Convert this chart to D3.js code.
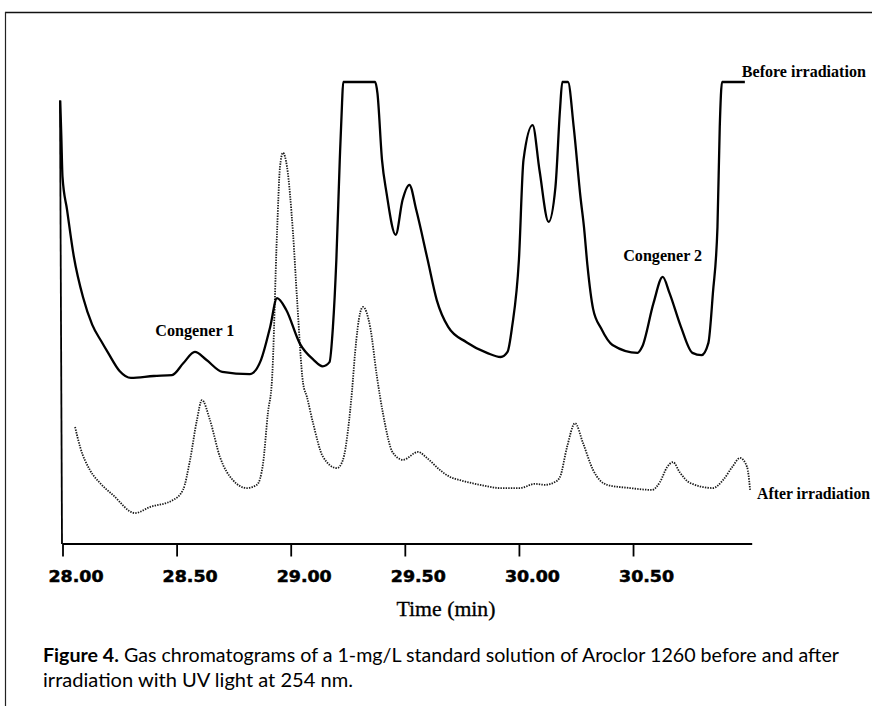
<!DOCTYPE html>
<html>
<head>
<meta charset="utf-8">
<script src="https://cdn.jsdelivr.net/npm/d3@7/dist/d3.min.js"></script>
<style>
  html, body { margin: 0; padding: 0; background: #fff; }
  svg { display: block; }
</style>
</head>
<body>
<svg id="chart" width="872" height="706"></svg>
<script>
// ---- Data (time in minutes, detector signal in arbitrary units, 100 = saturated) ----
const tickValues = [28.0, 28.5, 29.0, 29.5, 30.0, 30.5];
const tickLabels = ["28.00", "28.50", "29.00", "29.50", "30.00", "30.50"];

const beforeTime = [27.99, 27.995, 28.00, 28.02, 28.05, 28.09, 28.13, 28.17, 28.20, 28.25, 28.30, 28.40, 28.48, 28.53, 28.58, 28.63, 28.70, 28.82, 28.87, 28.91, 28.94, 28.98, 29.04, 29.10, 29.14, 29.17, 29.185, 29.20, 29.215, 29.225, 29.23, 29.37, 29.38, 29.40, 29.42, 29.46, 29.49, 29.52, 29.55, 29.60, 29.64, 29.69, 29.77, 29.86, 29.92, 29.95, 29.97, 30.00, 30.02, 30.06, 30.09, 30.13, 30.16, 30.18, 30.19, 30.215, 30.24, 30.27, 30.285, 30.30, 30.325, 30.36, 30.41, 30.52, 30.54, 30.59, 30.63, 30.66, 30.71, 30.76, 30.80, 30.83, 30.85, 30.87, 30.88, 30.89, 30.99];
const beforeSignal = [96.0, 88.0, 79.5, 72.4, 62.2, 53.5, 47.6, 44.0, 41.5, 37.6, 36.1, 36.5, 36.7, 39.3, 41.7, 40.0, 37.4, 36.9, 40.0, 47.1, 53.3, 50.8, 43.5, 40.0, 38.6, 39.5, 47.1, 61.6, 83.2, 95.5, 100, 100, 97.6, 83.2, 76.0, 67.0, 74.5, 77.8, 72.4, 61.6, 52.9, 47.1, 43.8, 41.5, 40.6, 41.7, 47.1, 61.6, 83.2, 90.7, 81.0, 69.8, 77.3, 94.0, 100, 100, 90.3, 75.0, 68.7, 60.5, 51.0, 46.8, 43.2, 41.5, 42.8, 52.3, 57.9, 54.4, 47.1, 41.5, 41.0, 43.6, 54.4, 68.7, 90.3, 100, 100];

const afterTime = [28.055, 28.077, 28.12, 28.164, 28.221, 28.318, 28.383, 28.484, 28.528, 28.559, 28.589, 28.611, 28.646, 28.69, 28.747, 28.808, 28.852, 28.879, 28.90, 28.918, 28.94, 28.953, 28.966, 28.984, 29.01, 29.028, 29.054, 29.071, 29.098, 29.142, 29.203, 29.229, 29.251, 29.269, 29.282, 29.304, 29.317, 29.348, 29.378, 29.404, 29.448, 29.492, 29.558, 29.597, 29.654, 29.698, 29.742, 29.83, 29.917, 30.005, 30.07, 30.114, 30.158, 30.18, 30.211, 30.246, 30.281, 30.325, 30.386, 30.487, 30.583, 30.618, 30.649, 30.675, 30.706, 30.75, 30.85, 30.894, 30.934, 30.969, 31.0, 31.013];
const afterSignal = [25.5, 21.2, 16.2, 13.4, 10.8, 6.9, 8.2, 9.7, 11.9, 18.4, 27.0, 31.3, 27.0, 19.0, 14.0, 12.3, 13.0, 17.7, 28.5, 35.6, 67.4, 81.6, 84.7, 81.6, 67.4, 52.9, 35.0, 32.0, 26.3, 19.0, 16.6, 18.4, 24.8, 33.5, 41.5, 50.1, 51.4, 47.1, 36.3, 28.5, 19.9, 18.4, 20.1, 18.8, 16.2, 14.7, 14.0, 13.0, 12.3, 12.3, 13.2, 13.0, 13.6, 14.7, 21.2, 26.3, 22.0, 16.2, 13.0, 12.3, 11.9, 13.6, 16.8, 17.9, 15.6, 13.4, 12.3, 14.0, 16.8, 18.8, 16.8, 11.9];

const seriesLabels = ["Before irradiation", "After irradiation"];
const peakLabels = [
  { text: "Congener 1", t: 28.58, s: 41.7 },
  { text: "Congener 2", t: 30.63, s: 57.9 }
];
const axisTitle = "Time (min)";
const captionBold = "Figure 4.";
const captionLine1 = " Gas chromatograms of a 1-mg/L standard solution of Aroclor 1260 before and after";
const captionLine2 = "irradiation with UV light at 254 nm.";

// ---- Drawing ----
const svg = d3.select("#chart");
const x = d3.scaleLinear().domain([28, 31.02]).range([62.5, 751.7]);
const y = d3.scaleLinear().domain([0, 100]).range([545, 82]);

// frame
svg.append("line").attr("x1", 5).attr("y1", 12.5).attr("x2", 872).attr("y2", 12.5)
  .attr("stroke", "#111").attr("stroke-width", 1.6);
svg.append("line").attr("x1", 5.5).attr("y1", 12).attr("x2", 5.5).attr("y2", 706)
  .attr("stroke", "#222").attr("stroke-width", 1.2);

// y axis line (no ticks)
svg.append("line")
  .attr("x1", x(28) - 2.5).attr("x2", x(28) - 0.5)
  .attr("y1", y(96)).attr("y2", y(0) - 1)
  .attr("stroke", "#000").attr("stroke-width", 1.8);

// x axis
const xAxis = d3.axisBottom(x)
  .tickValues(tickValues)
  .tickSize(13)
  .tickSizeOuter(0)
  .tickFormat((d, i) => tickLabels[i]);
const gx = svg.append("g").attr("transform", `translate(0,${y(0) - 1.5})`).call(xAxis);
gx.select(".domain").attr("stroke", "#000").attr("stroke-width", 2);
gx.selectAll(".tick line").attr("stroke", "#000").attr("stroke-width", 1.8);
gx.selectAll(".tick text")
  .attr("font-family", "'DejaVu Sans', sans-serif")
  .attr("font-weight", "bold")
  .attr("font-size", 15)
  .attr("fill", "#000")
  .attr("stroke", "#000")
  .attr("stroke-width", 0.5)
  .attr("dx", 13)
  .attr("y", 38)
  .attr("dy", 0)
  .attr("textLength", 55)
  .attr("lengthAdjust", "spacingAndGlyphs");

// series
const line = d3.line().x(d => x(d[0])).y(d => y(d[1])).curve(d3.curveMonotoneX);
const before = beforeTime.map((t, i) => [t, beforeSignal[i]]);
const after = afterTime.map((t, i) => [t, afterSignal[i]]);

svg.append("path").datum(after)
  .attr("d", line)
  .attr("fill", "none")
  .attr("stroke", "#1a1a1a")
  .attr("stroke-width", 1.8)
  .attr("stroke-dasharray", "1.4,1.2");

svg.append("path").datum(before)
  .attr("d", line)
  .attr("fill", "none")
  .attr("stroke", "#000")
  .attr("stroke-width", 2.3)
  .attr("stroke-linejoin", "round");

// labels
const serif = "'Liberation Serif', 'DejaVu Serif', serif";
svg.append("text").attr("x", x(30.99) - 3).attr("y", 77)
  .attr("font-family", serif).attr("font-size", 16).attr("font-weight", "bold")
  .attr("textLength", 124).attr("lengthAdjust", "spacingAndGlyphs")
  .text(seriesLabels[0]);
svg.append("text").attr("x", x(31.013) + 7).attr("y", 499)
  .attr("font-family", serif).attr("font-size", 16).attr("font-weight", "bold")
  .attr("textLength", 113).attr("lengthAdjust", "spacingAndGlyphs")
  .text(seriesLabels[1]);

svg.selectAll(".peak").data(peakLabels).enter().append("text")
  .attr("class", "peak")
  .attr("x", d => x(d.t))
  .attr("y", d => y(d.s) - 16)
  .attr("text-anchor", "middle")
  .attr("font-family", serif).attr("font-size", 16).attr("font-weight", "bold")
  .attr("textLength", 79).attr("lengthAdjust", "spacingAndGlyphs")
  .text(d => d.text);

// axis title
svg.append("text").attr("x", 446).attr("y", 616)
  .attr("text-anchor", "middle")
  .attr("font-family", serif).attr("font-size", 20)
  .attr("stroke", "#000").attr("stroke-width", 0.3)
  .attr("textLength", 99).attr("lengthAdjust", "spacingAndGlyphs")
  .text(axisTitle);

// caption
const sans = "Lato, 'Open Sans', sans-serif";
const cap1 = svg.append("text").attr("x", 43).attr("y", 662)
  .attr("font-family", sans).attr("font-size", 18.5).attr("fill", "#000")
  .attr("textLength", 796).attr("lengthAdjust", "spacingAndGlyphs");
cap1.append("tspan").attr("font-weight", "bold").text(captionBold);
cap1.append("tspan").text(captionLine1);
svg.append("text").attr("x", 43).attr("y", 687)
  .attr("font-family", sans).attr("font-size", 18.5).attr("fill", "#000")
  .attr("textLength", 310).attr("lengthAdjust", "spacingAndGlyphs")
  .text(captionLine2);
</script>
</body>
</html>
